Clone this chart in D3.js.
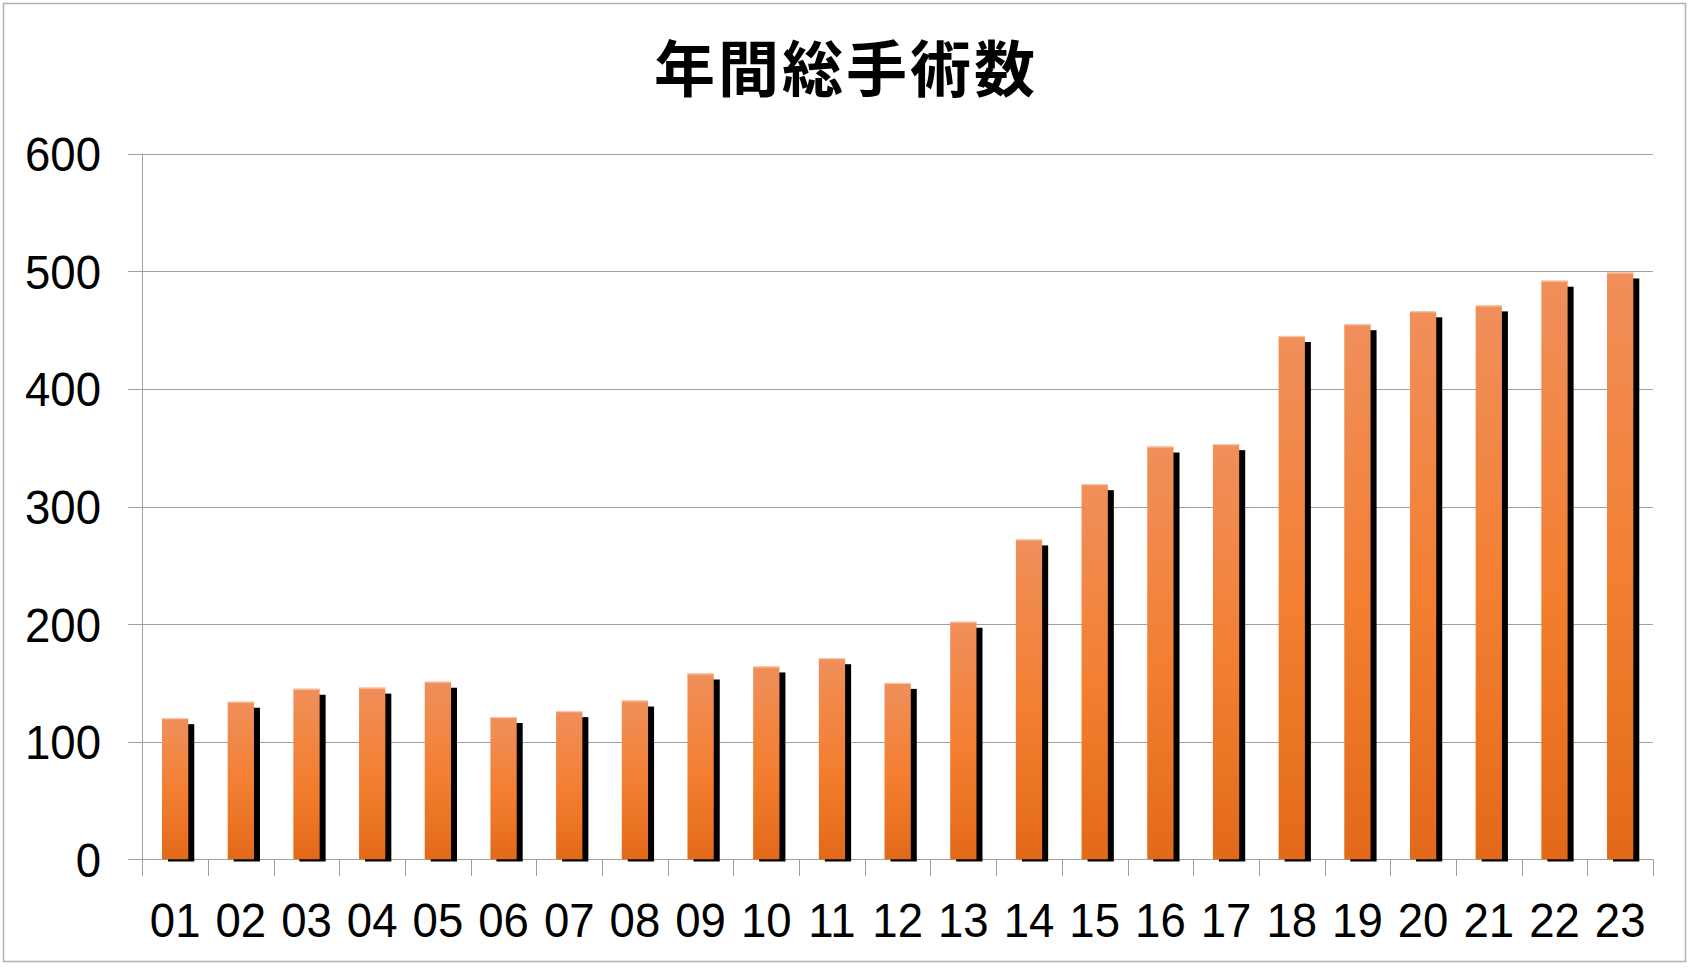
<!DOCTYPE html>
<html>
<head>
<meta charset="utf-8">
<script src="https://cdn.jsdelivr.net/npm/d3@7"></script>
<style>
  html, body { margin: 0; padding: 0; background: #ffffff; }
  svg { display: block; }
</style>
</head>
<body>
<svg id="chart" width="1693" height="974"></svg>
<script>
const title = "年間総手術数";
const categories = ["01","02","03","04","05","06","07","08","09","10","11","12","13","14","15","16","17","18","19","20","21","22","23"];
const values = [120,134,145,146,151,121,126,135,158,164,171,150,202,272,319,351,353,445,455,466,471,492,499];
const yTicks = [0,100,200,300,400,500,600];

(function () {
const svg = d3.select("#chart");
const pLeft = 142.3, pRight = 1653, pTop = 153.7, pBottom = 859.3;
const numFont = "'Liberation Sans', Arial, sans-serif";
const numSize = 49, numScale = 0.93;

// outer border
svg.append("rect").attr("x", 3.5).attr("y", 3.5).attr("width", 1682).attr("height", 958)
  .attr("fill", "#fff").attr("stroke", "#b3b3b3").attr("stroke-width", 1.5);

const x = d3.scaleBand().domain(categories).range([pLeft, pRight]).paddingInner(0.6).paddingOuter(0.3);
const xStep = d3.scaleBand().domain(categories).range([pLeft, pRight]).padding(0);
const y = d3.scaleLinear().domain([0, 600]).range([pBottom, pTop]);

// gradient
const defs = svg.append("defs");
const grad = defs.append("linearGradient").attr("id", "barGrad")
  .attr("x1", 0).attr("y1", 0).attr("x2", 0).attr("y2", 1);
grad.append("stop").attr("offset", "0%").attr("stop-color", "#F08F5B");
grad.append("stop").attr("offset", "55%").attr("stop-color", "#F37E2F");
grad.append("stop").attr("offset", "100%").attr("stop-color", "#E3691A");

// gridlines
svg.append("g").selectAll("line").data(yTicks).join("line")
  .attr("x1", 128).attr("x2", pRight)
  .attr("y1", d => Math.round(y(d)) + 0.5).attr("y2", d => Math.round(y(d)) + 0.5)
  .attr("stroke", "#a0a0a0").attr("stroke-width", 1);

// y axis line
svg.append("line").attr("x1", Math.round(pLeft) + 0.5).attr("x2", Math.round(pLeft) + 0.5)
  .attr("y1", pTop).attr("y2", 876).attr("stroke", "#a0a0a0").attr("stroke-width", 1);

// x category ticks
const tickXs = categories.map(c => xStep(c)).concat([pRight]);
svg.append("g").selectAll("line").data(tickXs).join("line")
  .attr("x1", d => Math.round(d) + 0.5).attr("x2", d => Math.round(d) + 0.5)
  .attr("y1", pBottom).attr("y2", 876)
  .attr("stroke", "#a0a0a0").attr("stroke-width", 1);

// shadows
svg.append("g").selectAll("rect").data(values).join("rect")
  .attr("x", (d, i) => x(categories[i]) + 6)
  .attr("y", d => y(d) + 6)
  .attr("width", x.bandwidth())
  .attr("height", d => 861.5 - (y(d) + 6))
  .attr("fill", "#000");

// bars
svg.append("g").selectAll("rect").data(values).join("rect")
  .attr("x", (d, i) => x(categories[i]))
  .attr("y", d => y(d))
  .attr("width", x.bandwidth())
  .attr("height", d => pBottom - y(d))
  .attr("fill", "url(#barGrad)");

// top highlight
svg.append("g").selectAll("line").data(values).join("line")
  .attr("x1", (d, i) => x(categories[i]))
  .attr("x2", (d, i) => x(categories[i]) + x.bandwidth())
  .attr("y1", d => y(d) + 0.5).attr("y2", d => y(d) + 0.5)
  .attr("stroke", "#F9C6A6").attr("stroke-width", 1.2);

// y labels
svg.append("g").selectAll("text").data(yTicks).join("text")
  .attr("transform", d => `translate(101,${y(d) + 17.5}) scale(${numScale},1)`)
  .attr("text-anchor", "end")
  .attr("font-family", numFont)
  .attr("font-size", numSize).attr("fill", "#000")
  .text(d => d);

// x labels
svg.append("g").selectAll("text").data(categories).join("text")
  .attr("transform", c => `translate(${xStep(c) + xStep.bandwidth() / 2},937) scale(${numScale},1)`)
  .attr("text-anchor", "middle")
  .attr("font-family", numFont)
  .attr("font-size", numSize).attr("fill", "#000")
  .text(c => c);

// title
svg.append("text").attr("x", 846).attr("y", 92)
  .attr("text-anchor", "middle")
  .attr("font-family", "'Noto Sans CJK JP', sans-serif")
  .attr("font-weight", 700).attr("font-size", 61)
  .attr("letter-spacing", 3).attr("fill", "#000")
  .text(title);
})();
</script>
</body>
</html>
